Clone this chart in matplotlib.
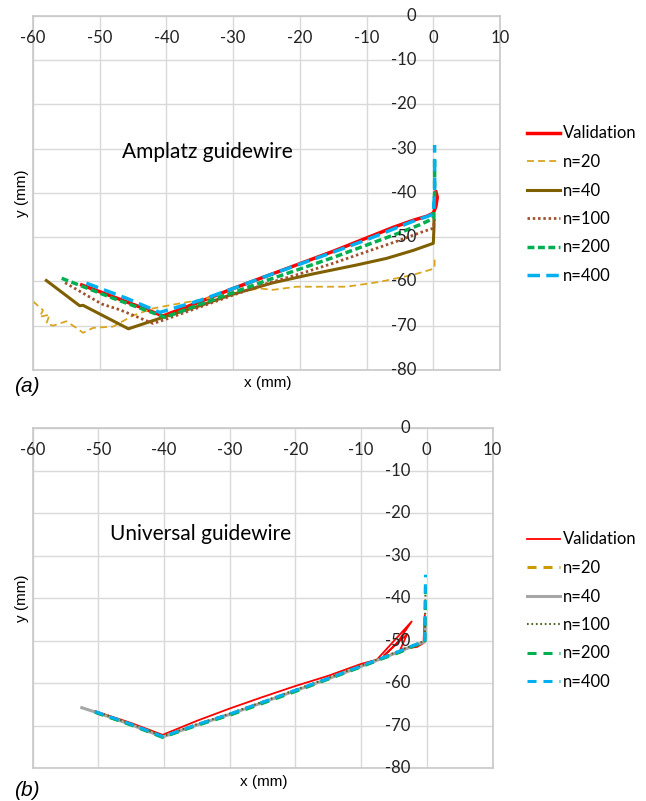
import matplotlib
matplotlib.use('Agg')
import matplotlib.pyplot as plt

plt.rcParams['lines.scale_dashes'] = False
plt.rcParams['font.family'] = ['Lato', 'DejaVu Sans']

labels = ['Validation', 'n=20', 'n=40', 'n=100', 'n=200', 'n=400']
xticks = [-60, -50, -40, -30, -20, -10, 0, 10]
yticks = [0, -10, -20, -30, -40, -50, -60, -70, -80]

# (a) Amplatz guidewire
a_val_x = [-52.7, -46, -40.5, -35, -30, -25, -20, -15, -10, -6, -3, -1, 0, 0.4, 0.6, 0.4]
a_val_y = [-60.8, -64.6, -67.8, -64.6, -61.6, -58.8, -56, -53.2, -50.2, -47.8, -46.2, -45.3, -44.6, -43, -41, -39.8]
a_n20_x = [-60, -58.5, -59, -57.5, -58, -57, -55, -53.5, -52.5, -51, -48, -45, -42, -38.5, -35, -30, -26, -24,
           -20.5, -13, -8, -3, -0.5, 0.2, 0.2]
a_n20_y = [-64.5, -66.5, -68, -67.5, -69.5, -70, -69, -70.5, -71.6, -70.5, -70.2, -67.7, -66.1, -65.1, -64.2,
           -62.5, -61.6, -61.9, -61.2, -61.2, -60.1, -58.5, -57.4, -57, -54.8]
a_n40_x = [-58, -53, -52.5, -45.7, -40.5, -35, -30.5, -24, -18, -11.5, -7, -3, 0, 0.1, 0.1]
a_n40_y = [-59.8, -65.5, -65.4, -70.7, -68.1, -65.5, -63.1, -60.3, -58.3, -56.3, -54.8, -53, -51.4, -48, -45]
a_n100_x = [-55.2, -49.7, -47, -42, -40, -35, -30, -25, -20, -15, -10, -5, -2, 0, 0.2]
a_n100_y = [-60.3, -65.1, -66.4, -69.5, -68.5, -65.8, -63.1, -60.5, -58.3, -55.9, -53.3, -50.7, -49, -48, -46]
a_n200_x = [-55.7, -48, -40.2, -35, -30, -25, -20, -15, -10, -5, -2, 0, 0.2, 0.2]
a_n200_y = [-59.3, -63.8, -68.1, -65.2, -62.5, -59.8, -57.2, -54.6, -51.8, -49, -47.2, -45.8, -40, -32]
a_n400_x = [-52, -46, -41, -35, -30, -25, -20, -15, -10, -6, -3, -1, 0, 0.2, 0.2]
a_n400_y = [-60.4, -63.8, -67, -64.3, -61.6, -58.8, -56.1, -53.4, -50.6, -48.2, -46.4, -45.4, -44.8, -40, -29.2]

# (b) Universal guidewire
b_val_x = [-50.5, -45, -40.2, -35, -30, -25, -20, -15, -10, -7.6, -2.3, -4.5, -6.5, -3, -4, -1.5, -0.5, -0.4, -0.3]
b_val_y = [-66.6, -69.4, -72.2, -68.9, -66.0, -63.3, -60.7, -58.3, -55.5, -54.5, -45.5, -50.5, -53.5, -48.5,
           -52, -51.5, -50.6, -47, -44]
b_x = [-50.5, -45, -40.2, -35, -30, -25, -20, -15, -10, -7, -4, -2, -0.3, -0.2]
b_n20_y = [-66.8, -69.8, -72.7, -69.8, -67.4, -64.6, -61.8, -59.0, -56.1, -54.3, -52.6, -51.2, -50.3, -42]
b_n40_x = [-52.5] + b_x
b_n40_y = [-65.8, -66.8, -69.8, -72.7, -69.9, -67.4, -64.6, -61.8, -59.0, -56.1, -54.3, -52.5, -51.2, -50.3, -46]
b_n100_y = [-66.6, -69.6, -72.5, -69.7, -67.2, -64.4, -61.6, -58.8, -55.9, -54.1, -52.3, -51.0, -50.1, -38.5]
b_n200_y = [-66.9, -69.9, -72.8, -70.0, -67.6, -64.8, -62.0, -59.1, -56.2, -54.4, -52.7, -51.3, -50.4, -37.3]
b_n400_y = [-66.7, -69.7, -72.6, -69.8, -67.3, -64.5, -61.7, -58.9, -56.0, -54.2, -52.4, -51.1, -50.2, -34.5]

fig = plt.figure(figsize=(6.46, 8.01), dpi=100)
ax1 = fig.add_axes([33 / 646, 1 - 370 / 801, 467 / 646, 354.4 / 801])
ax2 = fig.add_axes([32.5 / 646, 1 - 768 / 801, 460 / 646, 339.8 / 801])


def frame(ax):
    ax.set_xlim(-60, 10)
    ax.set_ylim(-80, 0)
    ax.set_xticks(xticks)
    ax.set_yticks(yticks)
    ax.tick_params(length=0, labelbottom=False, labelleft=False)
    ax.grid(True, color='#D9D9D9', lw=1.0)
    ax.set_axisbelow(True)
    for s in ax.spines.values():
        s.set_color('#C8C8C8')
        s.set_linewidth(1.2)
    for v in xticks:
        ax.annotate(str(v), (v, 0), xytext=(0, -16), textcoords='offset points',
                    ha='center', va='center', fontsize=12, color='#222222')
    for v in yticks:
        ax.annotate(str(v), (0, v), xytext=(-12, 0), textcoords='offset points',
                    ha='right', va='center', fontsize=12, color='#222222')


frame(ax1)
frame(ax2)

h1 = []
h1 += ax1.plot(a_val_x, a_val_y, color='#FF0000', lw=2.5)
h1 += ax1.plot(a_n20_x, a_n20_y, color='#D9A520', lw=1.3, dashes=(5, 3))
h1 += ax1.plot(a_n40_x, a_n40_y, color='#7F6000', lw=2.2)
h1 += ax1.plot(a_n100_x, a_n100_y, color='#A0522D', lw=2, dashes=(1.8, 2))
h1 += ax1.plot(a_n200_x, a_n200_y, color='#00B050', lw=2.5, dashes=(5, 2.5))
h1 += ax1.plot(a_n400_x, a_n400_y, color='#00B0F0', lw=2.5, dashes=(9, 4.5))

h2 = []
h2 += ax2.plot(b_val_x, b_val_y, color='#FF0000', lw=1.3)
h2 += ax2.plot(b_x, b_n20_y, color='#CC9900', lw=2.2, dashes=(6.5, 5))
h2 += ax2.plot(b_n40_x, b_n40_y, color='#A6A6A6', lw=2.2)
h2 += ax2.plot(b_x, b_n100_y, color='#4F6228', lw=1.5, dashes=(1.2, 2))
h2 += ax2.plot(b_x, b_n200_y, color='#00B050', lw=2.2, dashes=(6.5, 5))
h2 += ax2.plot(b_x, b_n400_y, color='#00B0F0', lw=2.2, dashes=(6.5, 5))

for h, top in ((h1, 125.5), (h2, 531.5)):
    fig.legend(h, labels, loc='upper left', bbox_to_anchor=(527 / 646, 1 - top / 801),
               frameon=False, fontsize=12, handlelength=2.0, handletextpad=0.15,
               labelspacing=0.75, borderpad=0, borderaxespad=0)

ax1.text((122 - 33) / 467, 1 - (152 - 15.6) / 354.4, 'Amplatz guidewire', transform=ax1.transAxes,
         fontsize=15, va='center', ha='left')
ax2.text((110 - 32.5) / 460, 1 - (534 - 428.2) / 339.8, 'Universal guidewire', transform=ax2.transAxes,
         fontsize=15, va='center', ha='left')

lab = dict(family=['Liberation Sans', 'DejaVu Sans'], fontsize=11)
fig.text(21.7 / 646, 1 - 193 / 801, 'y (mm)', rotation=90, ha='center', va='center', **lab)
fig.text(21.7 / 646, 1 - 598 / 801, 'y (mm)', rotation=90, ha='center', va='center', **lab)
fig.text(268 / 646, 1 - 383 / 801, 'x (mm)', ha='center', va='center', **lab)
fig.text(264 / 646, 1 - 782 / 801, 'x (mm)', ha='center', va='center', **lab)
fig.text(14 / 646, 1 - 386 / 801, '(a)', ha='left', va='center', style='italic',
         family=['Liberation Sans', 'DejaVu Sans'], fontsize=15)
fig.text(14 / 646, 1 - 790 / 801, '(b)', ha='left', va='center', style='italic',
         family=['Liberation Sans', 'DejaVu Sans'], fontsize=15)

fig.savefig('out.png', dpi=100)
